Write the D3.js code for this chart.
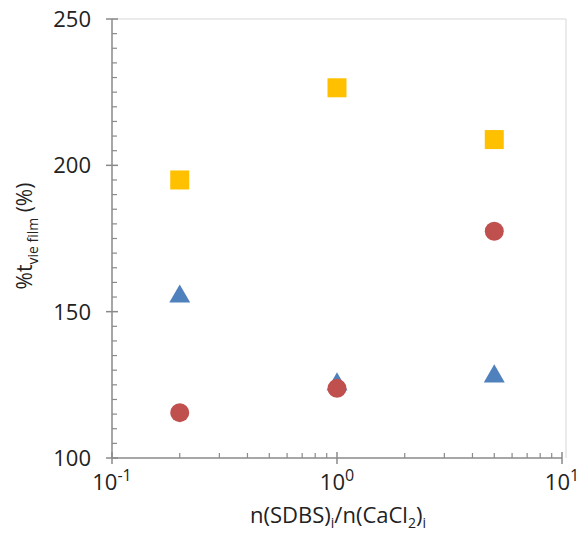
<!DOCTYPE html>
<html><head><meta charset="utf-8">
<script src="https://cdn.jsdelivr.net/npm/d3@7"></script>
<style>body{margin:0;background:#fff}svg{display:block}text{font-family:"Open Sans",sans-serif;fill:#222}</style>
</head><body>
<svg id="c" width="588" height="535"></svg>
<script>
const xValues = [0.2, 1, 5];
const squareVals = [195, 226.5, 208.8];
const circleVals = [115.5, 123.8, 177.5];
const triangleVals = [155.5, 125.5, 128.2];
const yTicks = [100, 150, 200, 250];
const xTicks = [0.1, 1, 10];
const xTickExp = ["-1", "0", "1"];

const svg = d3.select("#c");
const x = d3.scaleLog().domain([0.1, 10]).range([112, 562]);
const y = d3.scaleLinear().domain([100, 250]).range([458, 19]);
const axisCol = "#8a8a8a";

// plot area border (faint)
svg.append("line").attr("x1", x(0.1)).attr("x2", 566).attr("y1", y(250)).attr("y2", y(250)).attr("stroke", "#e4e4e4").attr("stroke-width", 1.5);
svg.append("line").attr("x1", 566).attr("x2", 566).attr("y1", y(250)).attr("y2", y(100)).attr("stroke", "#e4e4e4").attr("stroke-width", 1.5);

// y axis
svg.append("line").attr("x1", x(0.1)).attr("x2", x(0.1)).attr("y1", y(250)).attr("y2", y(100)).attr("stroke", axisCol).attr("stroke-width", 1.5);
const yMinor = d3.range(100, 251, 5).filter(v => v % 50 !== 0);
svg.selectAll(".ymin").data(yMinor).join("line").attr("x1", x(0.1)).attr("x2", x(0.1) + 5)
  .attr("y1", d => y(d)).attr("y2", d => y(d)).attr("stroke", axisCol).attr("stroke-width", 1.2);
svg.selectAll(".ymaj").data(yTicks).join("line").attr("x1", x(0.1) - 6).attr("x2", x(0.1) + 6)
  .attr("y1", d => y(d)).attr("y2", d => y(d)).attr("stroke", axisCol).attr("stroke-width", 1.5);
svg.selectAll(".ylab").data(yTicks).join("text").attr("x", x(0.1) - 21).attr("y", d => y(d) + 8)
  .attr("text-anchor", "end").attr("font-size", 22).text(d => d);

// x axis
svg.append("line").attr("x1", x(0.1)).attr("x2", x(10)).attr("y1", y(100)).attr("y2", y(100)).attr("stroke", axisCol).attr("stroke-width", 1.5);
const xMinor = [];
[0.1, 1].forEach(b => { for (let k = 2; k <= 9; k++) xMinor.push(b * k); });
svg.selectAll(".xmin").data(xMinor).join("line").attr("x1", d => x(d)).attr("x2", d => x(d))
  .attr("y1", y(100)).attr("y2", y(100) - 5).attr("stroke", axisCol).attr("stroke-width", 1.2);
svg.selectAll(".xmaj").data(xTicks).join("line").attr("x1", d => x(d)).attr("x2", d => x(d))
  .attr("y1", y(100) - 6).attr("y2", y(100) + 6).attr("stroke", axisCol).attr("stroke-width", 1.5);
const xl = svg.selectAll(".xlab").data(xTicks).join("text").attr("x", d => x(d)).attr("y", 490)
  .attr("text-anchor", "middle").attr("font-size", 22);
xl.append("tspan").text("10");
xl.append("tspan").attr("dy", -9).attr("font-size", 16).text((d, i) => xTickExp[i]);

// axis titles
const xt = svg.append("text").attr("x", 338).attr("y", 523).attr("text-anchor", "middle").attr("font-size", 22);
xt.append("tspan").text("n(SDBS)");
xt.append("tspan").attr("dy", 5).attr("font-size", 14).text("i");
xt.append("tspan").attr("dy", -5).text("/n(CaCl");
xt.append("tspan").attr("dy", 5).attr("font-size", 14).text("2");
xt.append("tspan").attr("dy", -5).text(")");
xt.append("tspan").attr("dy", 5).attr("font-size", 14).text("i");

const yt = svg.append("text").attr("transform", "translate(32,236) rotate(-90)").attr("text-anchor", "middle").attr("font-size", 21);
yt.append("tspan").text("%t");
yt.append("tspan").attr("dy", 6).attr("font-size", 14).text("vie film");
yt.append("tspan").attr("dy", -6).text(" (%)");

// markers
const tri = d3.symbol().type(d3.symbolTriangle).size(190);
svg.selectAll(".tri").data(xValues).join("path")
  .attr("transform", (d, i) => `translate(${x(d)},${y(triangleVals[i]) + 1})`)
  .attr("d", tri).attr("fill", "#4F81BD");
svg.selectAll(".cir").data(xValues).join("circle")
  .attr("cx", d => x(d)).attr("cy", (d, i) => y(circleVals[i])).attr("r", 9.5).attr("fill", "#C0504D");
svg.selectAll(".sq").data(xValues).join("rect")
  .attr("x", d => x(d) - 9.5).attr("y", (d, i) => y(squareVals[i]) - 9.5).attr("width", 19).attr("height", 19).attr("fill", "#FFC000");
</script>
</body></html>
